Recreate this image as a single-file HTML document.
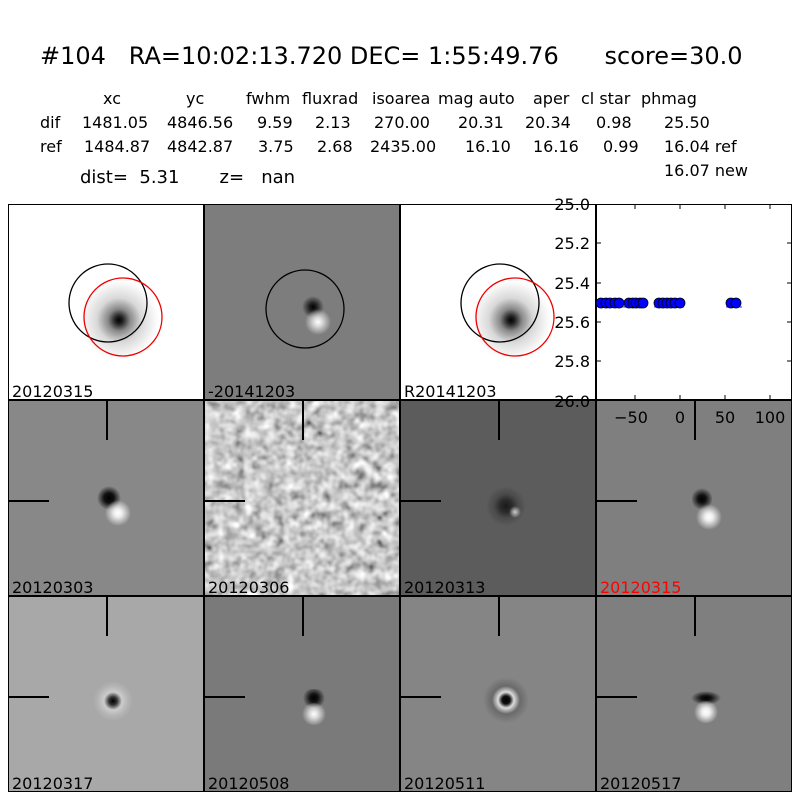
<!DOCTYPE html>
<html><head><meta charset="utf-8"><style>
body{margin:0;width:800px;height:800px;background:#fff;position:relative;overflow:hidden;font-family:"DejaVu Sans","Liberation Sans",sans-serif;}
.t{position:absolute;white-space:pre;color:#000;font-size:16px;line-height:18px;}
.p{position:absolute;width:196px;height:196px;box-sizing:border-box;border:1px solid #000;overflow:hidden;}
.lab{position:absolute;left:3px;bottom:-2px;font-size:16px;color:#000;}
.v{position:absolute;left:97px;top:0;width:1.5px;height:39px;background:#000;}
.h{position:absolute;left:0;top:99px;width:40px;height:1.5px;background:#000;}
.s{position:absolute;border-radius:50%;}
</style></head><body>
<div class="t" style="left:40px;top:42px;font-size:24px;line-height:28px;">#104   RA=10:02:13.720 DEC= 1:55:49.76      score=30.0</div>
<div class="t" style="left:103px;top:90px">xc</div><div class="t" style="left:186px;top:90px">yc</div><div class="t" style="left:246px;top:90px">fwhm</div><div class="t" style="left:302px;top:90px">fluxrad</div><div class="t" style="left:372px;top:90px">isoarea</div><div class="t" style="left:438px;top:90px">mag auto</div><div class="t" style="left:533px;top:90px">aper</div><div class="t" style="left:581px;top:90px">cl star</div><div class="t" style="left:641px;top:90px">phmag</div>
<div class="t" style="left:40px;top:114px">dif</div><div class="t" style="left:82px;top:114px">1481.05</div><div class="t" style="left:167px;top:114px">4846.56</div><div class="t" style="left:257px;top:114px">9.59</div><div class="t" style="left:315px;top:114px">2.13</div><div class="t" style="left:374px;top:114px">270.00</div><div class="t" style="left:458px;top:114px">20.31</div><div class="t" style="left:525px;top:114px">20.34</div><div class="t" style="left:596px;top:114px">0.98</div><div class="t" style="left:664px;top:114px">25.50</div>
<div class="t" style="left:40px;top:138px">ref</div><div class="t" style="left:84px;top:138px">1484.87</div><div class="t" style="left:167px;top:138px">4842.87</div><div class="t" style="left:258px;top:138px">3.75</div><div class="t" style="left:317px;top:138px">2.68</div><div class="t" style="left:370px;top:138px">2435.00</div><div class="t" style="left:465px;top:138px">16.10</div><div class="t" style="left:533px;top:138px">16.16</div><div class="t" style="left:603px;top:138px">0.99</div><div class="t" style="left:664px;top:138px">16.04 ref</div>
<div class="t" style="left:664px;top:162px;">16.07 new</div>
<div class="t" style="left:80px;top:168px;font-size:18px;line-height:20px;">dist=  5.31       z=   nan</div>

<!-- row 1 -->
<div class="p" style="left:8px;top:204px;background:#fff;">
<div class="s" style="left:70px;top:75px;width:80px;height:80px;background:radial-gradient(circle,#000 0,#222 4px,#888 11px,#d8d8d8 22px,#f8f8f8 36px,#fff 40px);"></div>
<svg width="196" height="196" style="position:absolute;left:0;top:0"><circle cx="99" cy="98" r="39" fill="none" stroke="#000" stroke-width="1.3"/><circle cx="114" cy="112" r="39" fill="none" stroke="#e00" stroke-width="1.3"/></svg>
<div class="lab">20120315</div></div>
<div class="p" style="left:204px;top:204px;background:#7d7d7d;">
<div class="s" style="left:97px;top:88px;width:22px;height:28px;background:radial-gradient(circle,#000 0,#222 4px,rgba(125,125,125,0) 11px);"></div>
<div class="s" style="left:100px;top:104px;width:26px;height:26px;background:radial-gradient(circle,#fff 0,#ddd 4px,rgba(125,125,125,0) 13px);"></div>
<svg width="196" height="196" style="position:absolute;left:0;top:0"><circle cx="100" cy="104" r="39" fill="none" stroke="#000" stroke-width="1.3"/></svg>
<div class="lab">-20141203</div></div>
<div class="p" style="left:400px;top:204px;background:#fff;">
<div class="s" style="left:70px;top:75px;width:80px;height:80px;background:radial-gradient(circle,#000 0,#222 4px,#888 11px,#d8d8d8 22px,#f8f8f8 36px,#fff 40px);"></div>
<svg width="196" height="196" style="position:absolute;left:0;top:0"><circle cx="99" cy="98" r="39" fill="none" stroke="#000" stroke-width="1.3"/><circle cx="114" cy="112" r="39" fill="none" stroke="#e00" stroke-width="1.3"/></svg>
<div class="lab">R20141203</div></div>

<!-- row 2 -->
<div class="p" style="left:8px;top:400px;background:#888;">
<div class="s" style="left:88px;top:84px;width:24px;height:26px;background:radial-gradient(circle,#000 0,#111 5px,rgba(136,136,136,0) 12px);"></div>
<div class="s" style="left:96px;top:98px;width:26px;height:28px;background:radial-gradient(circle,#fff 0,#eee 4px,rgba(136,136,136,0) 13px);"></div>
<div class="v"></div><div class="h"></div><div class="lab">20120303</div></div>
<div class="p" style="left:204px;top:400px;background:#999;">
<svg width="196" height="196" style="position:absolute;left:0;top:0"><filter id="n"><feTurbulence type="fractalNoise" baseFrequency="0.1" numOctaves="2" seed="3"/><feColorMatrix type="matrix" values="0.8 0.8 0 0 -0.22  0.8 0.8 0 0 -0.22  0.8 0.8 0 0 -0.22  0 0 0 0 1"/></filter><rect width="196" height="196" filter="url(#n)"/></svg>
<div class="v"></div><div class="h"></div><div class="lab">20120306</div></div>
<div class="p" style="left:400px;top:400px;background:#5c5c5c;">
<div class="s" style="left:85px;top:85px;width:40px;height:40px;background:radial-gradient(circle,#1a1a1a 0,#2a2a2a 6px,#4a4a4a 12px,rgba(92,92,92,0) 20px);"></div>
<div class="s" style="left:108px;top:104px;width:12px;height:14px;background:radial-gradient(circle,#ccc 0,rgba(92,92,92,0) 6px);"></div>
<div class="v"></div><div class="h"></div><div class="lab">20120313</div></div>
<div class="p" style="left:596px;top:400px;background:#7f7f7f;">
<div class="s" style="left:95px;top:84px;width:20px;height:28px;background:radial-gradient(circle,#000 0,#111 4px,rgba(127,127,127,0) 11px);"></div>
<div class="s" style="left:98px;top:102px;width:28px;height:28px;background:radial-gradient(circle,#fff 0,#eee 4px,rgba(127,127,127,0) 13px);"></div>
<div class="v"></div><div class="h"></div><div class="lab" style="color:#f00">20120315</div></div>

<!-- row 3 -->
<div class="p" style="left:8px;top:596px;background:#a8a8a8;">
<div class="s" style="left:84px;top:84px;width:40px;height:40px;background:radial-gradient(circle,#000 0,#333 4px,#ccc 9px,#b4b4b4 15px,rgba(168,168,168,0) 20px);"></div>
<div class="v"></div><div class="h"></div><div class="lab">20120317</div></div>
<div class="p" style="left:204px;top:596px;background:#7a7a7a;">
<div class="s" style="left:96px;top:92px;width:26px;height:18px;background:radial-gradient(circle,#000 0,#111 4px,rgba(122,122,122,0) 11px);"></div>
<div class="s" style="left:96px;top:106px;width:26px;height:22px;background:radial-gradient(circle,#fff 0,#ddd 4px,rgba(122,122,122,0) 12px);"></div>
<div class="v"></div><div class="h"></div><div class="lab">20120508</div></div>
<div class="p" style="left:400px;top:596px;background:#858585;">
<div class="s" style="left:82px;top:80px;width:46px;height:46px;background:radial-gradient(circle,#000 0,#111 4px,#ddd 8px,#6a6a6a 14px,rgba(133,133,133,0) 23px);"></div>
<div class="v"></div><div class="h"></div><div class="lab">20120511</div></div>
<div class="p" style="left:596px;top:596px;background:#7f7f7f;">
<div class="s" style="left:94px;top:94px;width:30px;height:14px;background:radial-gradient(ellipse,#000 0,#111 5px,rgba(127,127,127,0) 15px);"></div>
<div class="s" style="left:96px;top:104px;width:26px;height:22px;background:radial-gradient(circle,#fff 0,#eee 4px,rgba(127,127,127,0) 12px);"></div>
<div class="v"></div><div class="h"></div><div class="lab">20120517</div></div>

<!-- plot -->
<div class="p" style="left:596px;top:204px;background:#fff;overflow:visible;z-index:5;">
<svg width="196" height="196" style="position:absolute;left:-1px;top:-1px;overflow:visible">
<g stroke="#000" stroke-width="1">
<line x1="0" y1="39" x2="5" y2="39"/><line x1="0" y1="79" x2="5" y2="79"/><line x1="0" y1="118" x2="5" y2="118"/><line x1="0" y1="157" x2="5" y2="157"/>
<line x1="191" y1="39" x2="196" y2="39"/><line x1="191" y1="79" x2="196" y2="79"/><line x1="191" y1="118" x2="196" y2="118"/><line x1="191" y1="157" x2="196" y2="157"/>
<line x1="39" y1="196" x2="39" y2="191"/><line x1="84" y1="196" x2="84" y2="191"/><line x1="129" y1="196" x2="129" y2="191"/><line x1="174" y1="196" x2="174" y2="191"/>
<line x1="39" y1="0" x2="39" y2="5"/><line x1="84" y1="0" x2="84" y2="5"/><line x1="129" y1="0" x2="129" y2="5"/><line x1="174" y1="0" x2="174" y2="5"/>
</g>
<g fill="#00f" stroke="#000" stroke-width="0.8">
<line x1="2" y1="103" x2="30" y2="103" stroke="#00f"/><line x1="28" y1="103" x2="50" y2="103" stroke="#00f"/><line x1="58" y1="103" x2="88" y2="103" stroke="#00f"/><line x1="130" y1="103" x2="146" y2="103" stroke="#00f"/>
<circle cx="5" cy="99" r="5"/><circle cx="10" cy="99" r="5"/><circle cx="14" cy="99" r="5"/><circle cx="19" cy="99" r="5"/><circle cx="23" cy="99" r="5"/>
<circle cx="33" cy="99" r="5"/><circle cx="37" cy="99" r="5"/><circle cx="40" cy="99" r="5"/><circle cx="44" cy="99" r="5"/><circle cx="47" cy="99" r="5"/>
<circle cx="63" cy="99" r="5"/><circle cx="67" cy="99" r="5"/><circle cx="71" cy="99" r="5"/><circle cx="75" cy="99" r="5"/><circle cx="79" cy="99" r="5"/><circle cx="84" cy="99" r="5"/>
<circle cx="135" cy="99" r="5"/><circle cx="140" cy="99" r="5"/>
</g>
<g font-size="16" font-family="DejaVu Sans,Liberation Sans,sans-serif" fill="#000" text-anchor="end">
<text x="-6" y="6">25.0</text><text x="-6" y="45">25.2</text><text x="-6" y="85">25.4</text><text x="-6" y="124">25.6</text><text x="-6" y="163">25.8</text><text x="-6" y="203">26.0</text>
</g>
<g font-size="16" font-family="DejaVu Sans,Liberation Sans,sans-serif" fill="#000" text-anchor="middle">
<text x="35" y="219">−50</text><text x="84" y="219">0</text><text x="129" y="219">50</text><text x="174" y="219">100</text>
</g>
</svg></div>
</body></html>
